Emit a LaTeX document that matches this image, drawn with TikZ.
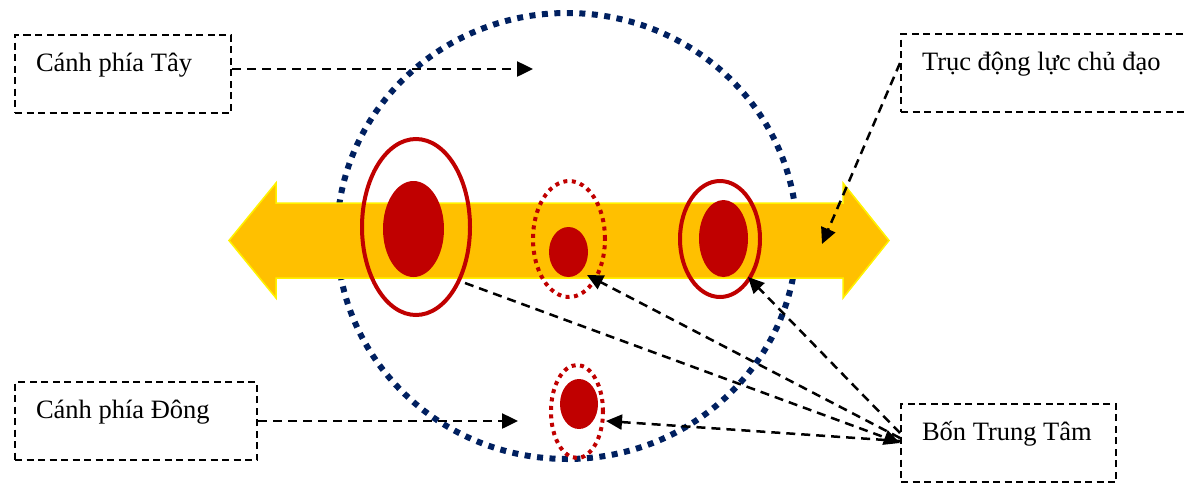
\documentclass[tikz,border=0pt]{standalone}
\usepackage{fontspec}
\setmainfont{Liberation Serif}
\usetikzlibrary{shapes.geometric,arrows.meta,calc}

\definecolor{navyblue}{HTML}{002060}
\definecolor{darkred}{HTML}{C00000}
\definecolor{axisfill}{HTML}{FFC000}

\tikzset{
  box/.style={draw, line width=2pt, dash pattern=on 7pt off 4.5pt, anchor=north west,
    inner xsep=21pt, inner ysep=6pt, text height=30pt, text depth=36pt, align=left,
    font=\fontsize{26.5}{30}\selectfont, execute at begin node={\spaceskip=0pt\xspaceskip=0pt\relax}},
  ring/.style={ellipse, draw=darkred, line width=4pt, inner sep=0pt},
  dotring/.style={ring, dash pattern=on 4pt off 4.5pt},
  centre/.style={ellipse, fill=darkred, inner sep=0pt},
  conn/.style={line width=2.5pt, dash pattern=on 9pt off 6pt, -{Triangle[length=16pt,width=15pt]}},
}

\begin{document}
\begin{tikzpicture}[x=1pt, y=-1pt]
        \useasboundingbox (0,0) rectangle (1184,483);
        \clip (0,0) rectangle (1184,483);

        % Big dotted circle
        \draw[navyblue, line width=6pt, dash pattern=on 6pt off 6.5pt] (567,236) ellipse [x radius=230pt, y radius=223pt];

        % Main axis (double arrow)
        \filldraw[fill=axisfill, draw=yellow, line width=1.5pt] (229,240.5) -- (276,183) -- (276,203) -- (843,203)
            -- (843,183) -- (889,240.5) -- (843,298) -- (843,278) -- (276,278) -- (276,298) -- cycle;
        \coordinate (trucend) at (822,244);

        % Centres
        \node[ring, minimum width=108pt, minimum height=176pt] (leftring) at (416,227) {};
        \node[centre, minimum width=61pt, minimum height=96pt] (leftdot) at (413.5,229) {};
        \node[dotring, minimum width=72pt, minimum height=116pt] (midring) at (569,239) {};
        \node[centre, minimum width=39pt, minimum height=50pt] (middot) at (568.5,252) {};
        \node[ring, minimum width=80pt, minimum height=116pt] (rightring) at (720,239) {};
        \node[centre, minimum width=49pt, minimum height=77pt] (rightdot) at (723.5,238.5) {};
        \node[dotring, minimum width=52pt, minimum height=93pt] (botring) at (577,411.5) {};
        \node[centre, minimum width=38pt, minimum height=50pt] (botdot) at (579,404) {};

        % Boxes
        \node[box, text width=174pt] (tay) at (14,34) {\mbox{Cánh phía Tây}};
        \node[box, text width=290pt] (truc) at (900,33) {\mbox{Trục động lực chủ đạo}};
        \node[box, text width=200pt] (dong) at (14,381) {\mbox{Cánh phía Đông}};
        \node[box, text width=173pt] (bon) at (900,403) {\mbox{Bốn Trung Tâm}};

        % Arrows
        \draw[conn] ([yshift=5pt]tay.east) -- ++(301,0);
        \draw[conn] (dong.east) -- ++(260,0);
        \draw[conn] ([yshift=10pt]truc.west) -- (trucend);
        \draw[conn] ([yshift=10pt]bon.west) -- ($(rightring)+(28,38)$);
        \draw[conn] ([yshift=5pt]bon.west) -- ($(midring)+(18,36)$);
        \draw[conn] ([yshift=2pt]bon.west) -- ($(botring)+(29,9.5)$);
        \draw[conn] ($(leftring)+(49,56)$) -- (bon.west);
    \end{tikzpicture}
\end{document}
